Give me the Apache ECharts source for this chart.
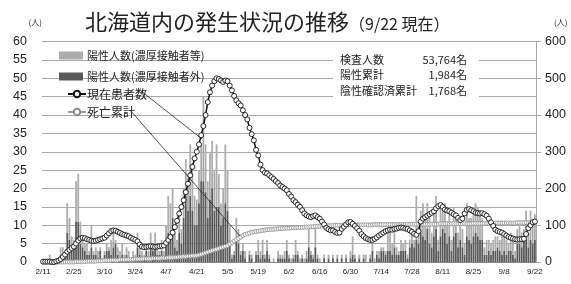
<!DOCTYPE html>
<html>
<head>
<meta charset="utf-8">
<script src="https://cdn.jsdelivr.net/npm/echarts@6/dist/echarts.min.js"></script>
<style>
  html, body { margin: 0; padding: 0; background: #fff; }
  #chart { width: 571px; height: 284px; }
</style>
</head>
<body>
<div id="chart"></div>
<script>
// 2/11 .. 9/22 (2020), one category per day
const categories = [];
for (let d = new Date(2020, 1, 11); categories.length < 225; d.setDate(d.getDate() + 1)) {
  categories.push((d.getMonth() + 1) + "/" + d.getDate());
}

// 陽性人数(濃厚接触者外) - dark bars
const nonContact = [
  0,0,0,1,0,0,0,0,2,1,2,
  8,6,3,4,11,11,5,4,3,2,
  2,4,2,2,1,3,0,2,3,3,
  2,4,5,2,1,2,1,2,1,0,
  1,1,4,2,1,1,3,1,4,3,
  5,2,2,3,1,5,8,7,12,4,
  3,8,5,12,18,14,18,14,10,10,
  16,22,22,19,12,17,20,14,15,15,
  10,12,16,14,5,1,2,6,5,2,
  3,1,0,2,1,0,2,2,1,2,
  1,3,1,0,0,0,1,1,1,1,
  3,1,0,1,2,2,0,1,0,1,
  4,2,1,4,1,0,0,1,0,1,
  0,1,0,1,0,1,0,1,0,1,
  2,1,0,1,0,1,0,0,1,3,
  0,2,1,3,3,2,3,3,2,4,
  2,2,3,3,3,1,4,5,4,6,
  5,8,7,6,9,5,4,7,9,3,
  7,9,8,5,7,3,7,8,4,6,
  4,2,7,6,5,7,8,7,6,6,
  2,2,3,2,3,3,4,3,2,3,
  2,3,3,2,1,5,5,4,6,6,
  4,6,5,6
];

// 陽性人数(濃厚接触者等) - light bars, stacked on top
const contact = [
  0,0,0,1,0,0,0,1,2,3,1,
  8,6,4,2,11,13,6,2,2,3,
  1,6,1,2,2,1,1,1,2,1,
  4,4,1,2,2,3,1,2,2,1,
  2,1,4,2,2,1,2,2,4,1,
  3,2,1,3,2,5,10,9,8,4,
  3,5,4,8,10,9,14,13,8,7,
  9,10,23,13,10,13,13,11,17,9,
  6,8,16,11,5,1,1,6,4,1,
  2,2,0,1,1,0,1,4,2,4,
  1,3,1,0,1,0,2,1,1,2,
  3,1,1,1,4,1,1,1,1,2,
  6,1,1,6,1,1,0,1,0,1,
  0,1,0,1,0,1,0,1,0,2,
  5,1,0,1,0,1,2,0,1,4,
  1,1,2,1,1,1,6,5,3,5,
  2,1,3,2,3,1,2,4,2,12,
  5,6,9,7,7,7,4,7,9,3,
  8,7,8,6,7,3,8,4,4,4,
  5,3,9,6,7,7,8,8,8,6,
  2,4,3,3,3,4,3,3,5,5,
  4,2,5,4,2,4,5,4,3,8,
  4,8,5,7
];

// 現在患者数 (right axis)
const patients = [
  1,1,1,1,0,0,2,4,8,14,
  20,28,33,38,42,50,58,64,66,65,
  62,60,58,57,58,60,62,64,66,72,
  78,84,86,85,82,79,76,74,72,70,
  66,63,60,56,48,42,40,41,42,43,
  42,41,42,43,44,45,52,60,68,80,
  95,112,132,150,168,190,213,236,259,282,
  300,320,345,370,400,435,462,480,492,500,
  498,494,490,494,492,480,467,452,440,432,
  426,413,400,388,365,348,331,305,290,265,
  250,243,241,236,231,226,220,215,208,204,
  200,195,185,178,168,163,156,150,141,132,
  127,124,122,125,127,122,118,110,102,93,
  89,86,86,82,79,80,90,96,102,108,
  109,104,98,92,85,76,70,65,62,60,
  60,63,67,72,76,80,84,86,88,88,
  90,91,93,94,93,91,90,86,82,77,
  74,84,110,118,122,126,130,134,138,146,
  152,155,150,143,140,138,134,130,127,120,
  114,118,132,142,144,141,138,134,133,132,
  133,130,126,118,108,98,88,84,82,80,
  76,72,68,66,64,62,61,62,62,63,
  76,92,100,108,110
];

// 死亡累計 (right axis)
const deaths = [
  0,0,0,0,0,0,0,0,0,0,0,0,0,0,0,
  1,1,1,1,1,
  2,2,2,2,2,
  3,3,3,4,4,
  4,5,5,5,5,
  6,6,6,7,7,7,7,
  8,8,8,8,9,9,9,9,
  10,10,10,10,11,11,11,
  12,12,12,13,13,14,14,
  15,15,16,16,17,17,18,
  19,21,23,25,27,29,31,
  33,35,37,39,41,43,45,
  49,53,57,61,64,68,72,
  75,77,79,81,82,83,84,
  85,86,87,88,88,89,89,
  90,90,91,91,92,92,92,
  93,93,93,94,94,94,95,
  95,95,96,96,97,97,97,
  98,98,98,99,99,99,100,
  100,100,100,101,101,101,101,
  101,101,101,101,101,101,101,101,101,101,
  102,102,102,102,102,102,102,102,102,102,102,102,102,102,102,
  103,103,103,103,103,103,103,103,103,103,103,103,103,103,103,
  104,104,104,104,104,104,104,104,104,104,104,104,104,104,104,
  105,105,105,105,105,105,105,105,105,105,
  106,106,106,106,106,106,106,106,106,106,
  107,107,107,107,107,107,107,107,107
];

const leftTicks = { min: 0, max: 60, interval: 5 };
const rightTicks = { min: 0, max: 600, interval: 100 };

const infoLabels = ["検査人数", "陽性累計", "陰性確認済累計"];
const infoValues = ["53,764名", "1,984名", "1,768名"];

const jp = "'Noto Sans CJK JP', sans-serif";
const num = "'Liberation Sans', Arial, sans-serif";

const chart = echarts.init(document.getElementById("chart"), null, { renderer: "canvas" });

const infoGraphics = [];
infoGraphics.push({
  type: "rect", left: 333, top: 52, z: 50,
  shape: { width: 146, height: 48 },
  style: { fill: "#fff" }
});
infoLabels.forEach((t, i) => {
  infoGraphics.push({
    type: "text", left: 340, top: 54 + i * 15.5, z: 51,
    style: { text: t, font: "11px " + jp, fill: "#222" }
  });
  infoGraphics.push({
    type: "text", right: 571 - 467, top: 54 + i * 15.5, z: 51,
    style: { text: infoValues[i], font: "11px " + jp, fill: "#222", textAlign: "right" }
  });
});

chart.setOption({
  animation: false,
  title: {
    text: "{a|北海道内の発生状況の推移}{b|（9/22 現在）}",
    left: 80, top: 6,
    textStyle: {
      fontWeight: "normal",
      rich: {
        a: { fontSize: 22, fontFamily: jp, fontWeight: "normal", color: "#222" },
        b: { fontSize: 16, fontFamily: jp, fontWeight: "normal", color: "#222", padding: [4, 0, 0, 0] }
      }
    }
  },
  grid: { left: 42, right: 35, top: 41.5, bottom: 22, containLabel: false, outerBoundsMode: "none" },
  legend: [
    {
      data: ["陽性人数(濃厚接触者等)", "陽性人数(濃厚接触者外)"],
      orient: "vertical", left: 54, top: 45, itemGap: 10,
      itemWidth: 24, itemHeight: 8, icon: "rect",
      textStyle: { fontSize: 11, fontFamily: jp, color: "#222", padding: [0, 0, 0, -1] }
    },
    {
      data: ["現在患者数", "死亡累計"],
      orient: "vertical", left: 62, top: 83, itemGap: 6,
      itemWidth: 18, itemHeight: 8,
      textStyle: { fontSize: 12, fontFamily: jp, color: "#222", padding: [0, 0, 0, -4] }
    }
  ],
  xAxis: {
    type: "category",
    data: categories,
    boundaryGap: true,
    axisLine: { lineStyle: { color: "#888" } },
    axisTick: { interval: 13, alignWithLabel: true, length: 4, lineStyle: { color: "#888" } },
    axisLabel: { interval: 13, fontSize: 8, fontFamily: num, color: "#222", margin: 6 }
  },
  yAxis: [
    {
      type: "value", ...leftTicks,
      axisLine: { show: false }, axisTick: { show: false },
      axisLabel: { fontSize: 12.5, fontFamily: num, color: "#222", margin: 15 },
      splitLine: { lineStyle: { color: "#a8a8a8", width: 1 } },
      name: "(人)", nameLocation: "end", nameGap: 16,
      nameTextStyle: { fontSize: 8, fontFamily: jp, color: "#222", align: "right", padding: [0, 0, 0, 0] }
    },
    {
      type: "value", ...rightTicks, position: "right",
      axisLine: { show: true, lineStyle: { color: "#aaa" } },
      axisTick: { show: true, length: 5, lineStyle: { color: "#aaa" } },
      axisLabel: { fontSize: 12.5, fontFamily: num, color: "#222", margin: 9 },
      splitLine: { show: false },
      name: "(人)", nameLocation: "end", nameGap: 16,
      nameTextStyle: { fontSize: 8, fontFamily: jp, color: "#222", align: "left", padding: [0, 0, 0, 18] }
    }
  ],
  series: [
    {
      name: "陽性人数(濃厚接触者外)", type: "bar", stack: "pos",
      data: nonContact, barCategoryGap: "18%",
      itemStyle: { color: "#5a5a5a" }
    },
    {
      name: "陽性人数(濃厚接触者等)", type: "bar", stack: "pos",
      data: contact, barCategoryGap: "18%",
      itemStyle: { color: "#adadad" }
    },
    {
      name: "死亡累計", type: "line", yAxisIndex: 1,
      data: deaths, showAllSymbol: true,
      symbol: "circle", symbolSize: 4,
      lineStyle: { color: "#9a9a9a", width: 1 },
      itemStyle: { color: "#fff", borderColor: "#8a8a8a", borderWidth: 0.8 },
      z: 3
    },
    {
      name: "現在患者数", type: "line", yAxisIndex: 1,
      data: patients, showAllSymbol: true,
      symbol: "circle", symbolSize: 5,
      lineStyle: { color: "#111", width: 1.5 },
      itemStyle: { color: "#fff", borderColor: "#111", borderWidth: 0.9 },
      z: 4
    }
  ],
  graphic: [
    ...infoGraphics,
    { type: "line", z: 60, shape: { x1: 141, y1: 91, x2: 202, y2: 139 }, style: { stroke: "#222", lineWidth: 0.8 } },
    { type: "line", z: 60, shape: { x1: 130, y1: 110, x2: 240, y2: 236 }, style: { stroke: "#222", lineWidth: 0.8 } }
  ]
});
</script>
</body>
</html>
